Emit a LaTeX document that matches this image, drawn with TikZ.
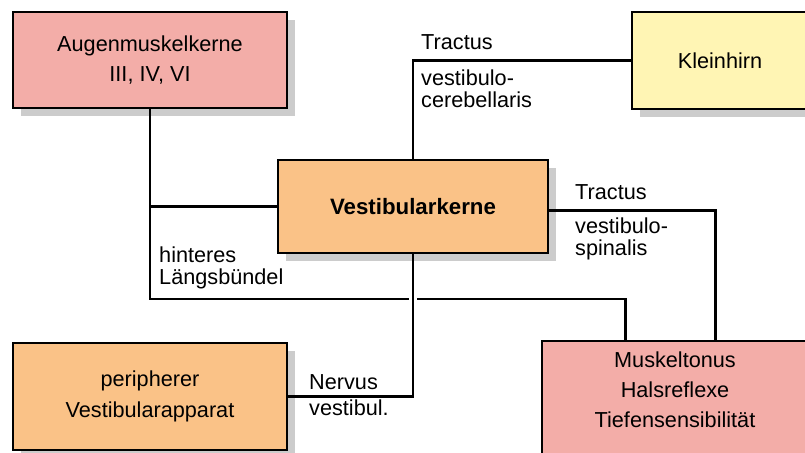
\documentclass[tikz,border=0pt]{standalone}
\usepackage{fontspec}
\setmainfont{Liberation Sans}
\usetikzlibrary{positioning, calc, shadows}
\definecolor{kernpink}{HTML}{F3ADA8}
\definecolor{kernorange}{HTML}{FAC287}
\definecolor{kerngelb}{HTML}{FFF5B4}

\begin{document}
\begin{tikzpicture}[x=0.03cm, y=-0.03cm,
    box/.style={draw, line width=2.5pt, align=center, font=\fontsize{18.5}{26}\selectfont,
        general shadow={fill=black!20, shadow xshift=0.24cm, shadow yshift=-0.24cm}},
    tract/.style={anchor=west, align=left, inner sep=0pt, font=\fontsize{18.5}{19}\selectfont},
    conn/.style={line width=2pt},
]
\useasboundingbox (0,0) rectangle (805,453);

% Kerne und Zielgebiete
\node[box, fill=kernpink, minimum width=8.22cm, minimum height=2.88cm, font=\fontsize{18.5}{25}\selectfont] (augen) at (150,60) {Augenmuskelkerne\\III, IV, VI};
\node[box, fill=kerngelb, minimum width=5.28cm, minimum height=2.91cm] (klein) at (720,60.5) {Kleinhirn};
\node[box, fill=kernorange, minimum width=8.1cm, minimum height=2.79cm, font=\fontsize{19}{26}\selectfont\bfseries] (vest) at (413,206.5) {Vestibularkerne};
\node[box, fill=kernorange, minimum width=8.22cm, minimum height=3.21cm] (peri) at (150,396.5) {peripherer\\Vestibularapparat};
\node[box, fill=kernpink, minimum width=7.98cm, minimum height=3.48cm] (muskel) at (675,399) {Muskeltonus\\Halsreflexe\\Tiefensensibilität\\[-10pt]};

% Bahnen
\coordinate (hlb) at (150,299);
\draw[conn] (augen.south) -- (hlb) -| ($(muskel.north west)+(85,0)$);
\draw[conn] (vest.west) -- (vest.west -| hlb);
\draw[conn] (vest.north) |- (klein.west);
\draw[conn] ($(vest.east)+(0,4)$) -| ($(muskel.north west)+(175,0)$);
\draw[conn, preaction={draw=white, line width=7pt, shorten <=1cm, shorten >=1cm}] (vest.south) |- (peri.east);

% Beschriftung der Bahnen
\node[tract] (tvc) at (421,42) {Tractus};
\node[tract] (tvcb) at (421,89) {vestibulo-\\cerebellaris};
\node[tract] (tvs) at (575,192) {Tractus};
\node[tract] (tvsb) at (575,239) {vestibulo-\\spinalis};
\node[tract] (lb) at (159,268) {hinteres\\Längsbündel};
\node[tract] (nv) at (309,382) {Nervus};
\node[tract] (nvb) at (309,408) {vestibul.};

\end{tikzpicture}
\end{document}
